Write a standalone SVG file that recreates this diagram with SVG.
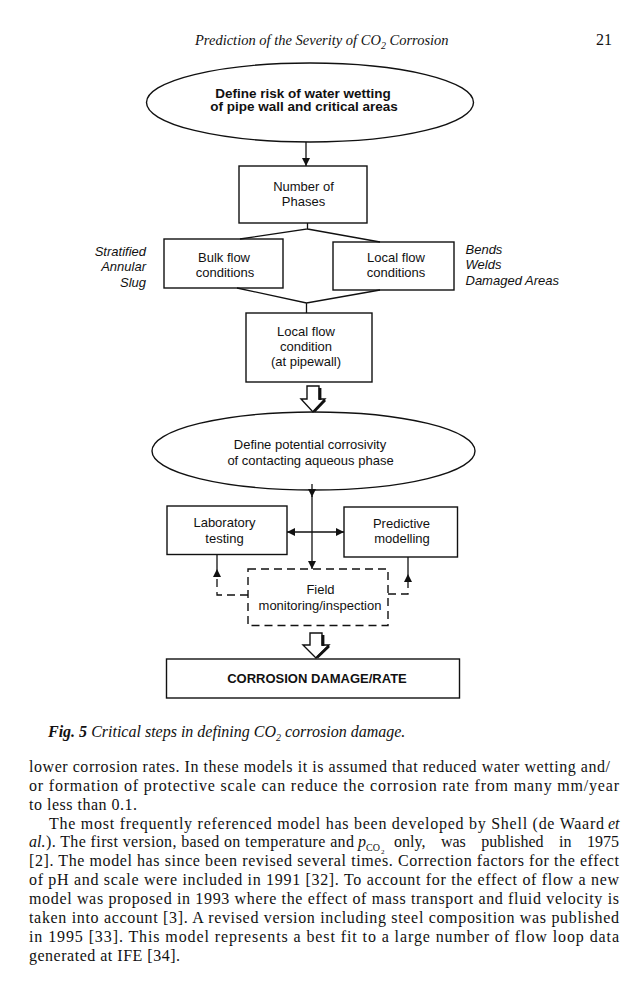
<svg xmlns="http://www.w3.org/2000/svg" width="638" height="986" viewBox="0 0 638 986">
<style>
.bg{fill:#fff}
.shape{fill:#fff;stroke:#111;stroke-width:1.4}
.dashbox{fill:none;stroke:#111;stroke-width:1.4;stroke-dasharray:8 5}
.conn{fill:none;stroke:#111;stroke-width:1.3}
.dash{stroke-dasharray:8 5}
.thick{fill:none;stroke:#111;stroke-width:2.8}
.t{font-family:"Liberation Sans",Arial,sans-serif;font-size:13px;fill:#111;text-anchor:middle}
.b{font-weight:bold}
.i{font-style:italic}
.s{font-family:"Liberation Serif","Times New Roman",serif;font-size:16px;fill:#111}
.cap{font-family:"Liberation Serif","Times New Roman",serif;font-size:16px;fill:#111;font-style:italic}
</style>
<defs>
<marker id="ah" markerUnits="userSpaceOnUse" markerWidth="8" markerHeight="8" refX="8" refY="4" orient="auto-start-reverse">
<path d="M0,0 L8,4 L0,8 z" fill="#111"/>
</marker>
</defs>
<rect class="bg" x="0" y="0" width="638" height="986"/>

<g id="header">
<text class="cap" x="195" y="45" style="font-size:14.5px">Prediction of the Severity of CO<tspan dy="3.5" style="font-size:10px">2</tspan><tspan dy="-3.5"> Corrosion</tspan></text>
<text class="s" x="612" y="45" text-anchor="end">21</text>
</g>

<g id="n_wetting">
<ellipse class="shape" cx="310" cy="102.5" rx="163.5" ry="39.5"/>
<text class="t b" x="303" y="97.5" style="font-size:13.5px">Define risk of water wetting</text>
<text class="t b" x="304" y="111" style="font-size:13.5px">of pipe wall and critical areas</text>
</g>

<g id="n_phases">
<rect class="shape" x="239" y="166" width="128" height="57"/>
<text class="t" x="303.5" y="191">Number of</text>
<text class="t" x="303.5" y="206">Phases</text>
</g>

<g id="n_bulk">
<rect class="shape" x="164" y="239" width="119" height="49"/>
<text class="t" x="224" y="262">Bulk flow</text>
<text class="t" x="225" y="277">conditions</text>
</g>

<g id="lbl_left">
<text class="t i" x="146" y="255.5" style="text-anchor:end">Stratified</text>
<text class="t i" x="146" y="271" style="text-anchor:end">Annular</text>
<text class="t i" x="146" y="286.5" style="text-anchor:end">Slug</text>
</g>

<g id="n_local">
<rect class="shape" x="333" y="242" width="121" height="48"/>
<text class="t" x="396" y="262">Local flow</text>
<text class="t" x="396" y="277">conditions</text>
</g>

<g id="lbl_right">
<text class="t i" x="465.5" y="253.5" style="text-anchor:start">Bends</text>
<text class="t i" x="465.5" y="269" style="text-anchor:start">Welds</text>
<text class="t i" x="465.5" y="284.5" style="text-anchor:start">Damaged Areas</text>
</g>

<g id="n_pipewall">
<rect class="shape" x="246" y="313" width="126" height="69"/>
<text class="t" x="306" y="336">Local flow</text>
<text class="t" x="306" y="351">condition</text>
<text class="t" x="306" y="366">(at pipewall)</text>
</g>

<g id="n_corrosivity">
<ellipse class="shape" cx="313.5" cy="451" rx="161.5" ry="39"/>
<text class="t" x="310" y="449">Define potential corrosivity</text>
<text class="t" x="310.5" y="465">of contacting aqueous phase</text>
</g>

<g id="n_lab">
<rect class="shape" x="167" y="506" width="120" height="48.5"/>
<text class="t" x="224.5" y="527">Laboratory</text>
<text class="t" x="224.5" y="543">testing</text>
</g>

<g id="n_predictive">
<rect class="shape" x="344" y="507" width="113.5" height="50"/>
<text class="t" x="401.5" y="528">Predictive</text>
<text class="t" x="402" y="543">modelling</text>
</g>

<g id="n_field">
<rect class="dashbox" x="248" y="569" width="140" height="56.5"/>
<text class="t" x="320.5" y="594">Field</text>
<text class="t" x="320" y="610">monitoring/inspection</text>
</g>

<g id="n_damage">
<rect class="shape" x="166.5" y="659" width="293" height="39"/>
<text class="t b" x="317" y="683">CORROSION DAMAGE/RATE</text>
</g>

<g id="connectors">
<path class="conn" d="M306,142 V166" marker-end="url(#ah)"/>
<path class="conn" d="M307.5,223 V229 L240,239 M307.5,229 L380,242"/>
<path class="conn" d="M237,288 L306.5,303 L380,290 M306.5,303 V313"/>
<path class="conn" d="M312,484 V497" marker-end="url(#ah)"/>
<path class="conn" d="M312,496 V569" marker-end="url(#ah)"/>
<path class="conn" d="M287,532 H344" marker-start="url(#ah)" marker-end="url(#ah)"/>
<path class="conn dash" d="M248,595 H217 V577"/>
<path class="conn" d="M217,577 V569" marker-end="url(#ah)"/>
<path class="conn" d="M217,569 V555"/>
<path class="conn dash" d="M388,594 H408 V582"/>
<path class="conn" d="M408,582 V574" marker-end="url(#ah)"/>
<path class="conn" d="M408,574 V557"/>
<g id="hollow1">
<polygon class="shape" points="307,386 319,386 319,399 325,399 313,412 301,399 307,399"/>
<polyline class="thick" points="320,388 320,400"/>
<polyline class="thick" points="325,400 314,411.5"/>
</g>
<g id="hollow2">
<polygon class="shape" points="310,633 322,633 322,645 329,645 316,658 303,645 310,645"/>
<polyline class="thick" points="323,635 323,646"/>
<polyline class="thick" points="329,646 317,657.5"/>
</g>
</g>

<g id="caption">
<text class="cap" x="48" y="737"><tspan font-weight="bold">Fig. 5</tspan> Critical steps in defining CO<tspan dy="4" style="font-size:10px">2</tspan><tspan dy="-4"> corrosion damage.</tspan></text>
</g>

<g id="body">
<text class="s" x="29" y="772" textLength="581" lengthAdjust="spacing">lower corrosion rates. In these models it is assumed that reduced water wetting and/</text>
<text class="s" x="29" y="790.85" textLength="590" lengthAdjust="spacing">or formation of protective scale can reduce the corrosion rate from many mm/year</text>
<text class="s" x="29" y="809.7" textLength="108" lengthAdjust="spacing">to less than 0.1.</text>
<text class="s" x="49" y="828.55" textLength="555" lengthAdjust="spacing">The most frequently referenced model has been developed by Shell (de Waard</text>
<text class="s" x="608" y="828.55" font-style="italic">et</text>
<text class="s" x="29" y="847.4" font-style="italic">al.</text>
<text class="s" x="46" y="847.4" textLength="308" lengthAdjust="spacing">). The first version, based on temperature and</text>
<text class="s" x="358" y="847.4"><tspan font-style="italic">p</tspan><tspan dy="3.6" style="font-size:10px">CO</tspan><tspan dx="1" dy="2.6" style="font-size:7px">2</tspan></text>
<text class="s" x="394" y="847.4" word-spacing="11.5">only, was published in 1975</text>
<text class="s" x="29" y="866.25" textLength="590" lengthAdjust="spacing">[2]. The model has since been revised several times. Correction factors for the effect</text>
<text class="s" x="29" y="885.1" textLength="590" lengthAdjust="spacing">of pH and scale were included in 1991 [32]. To account for the effect of flow a new</text>
<text class="s" x="29" y="903.95" textLength="590" lengthAdjust="spacing">model was proposed in 1993 where the effect of mass transport and fluid velocity is</text>
<text class="s" x="29" y="922.8" textLength="590" lengthAdjust="spacing">taken into account [3]. A revised version including steel composition was published</text>
<text class="s" x="29" y="941.65" textLength="590" lengthAdjust="spacing">in 1995 [33]. This model represents a best fit to a large number of flow loop data</text>
<text class="s" x="29" y="960.5" textLength="151" lengthAdjust="spacing">generated at IFE [34].</text>
</g>
</svg>
